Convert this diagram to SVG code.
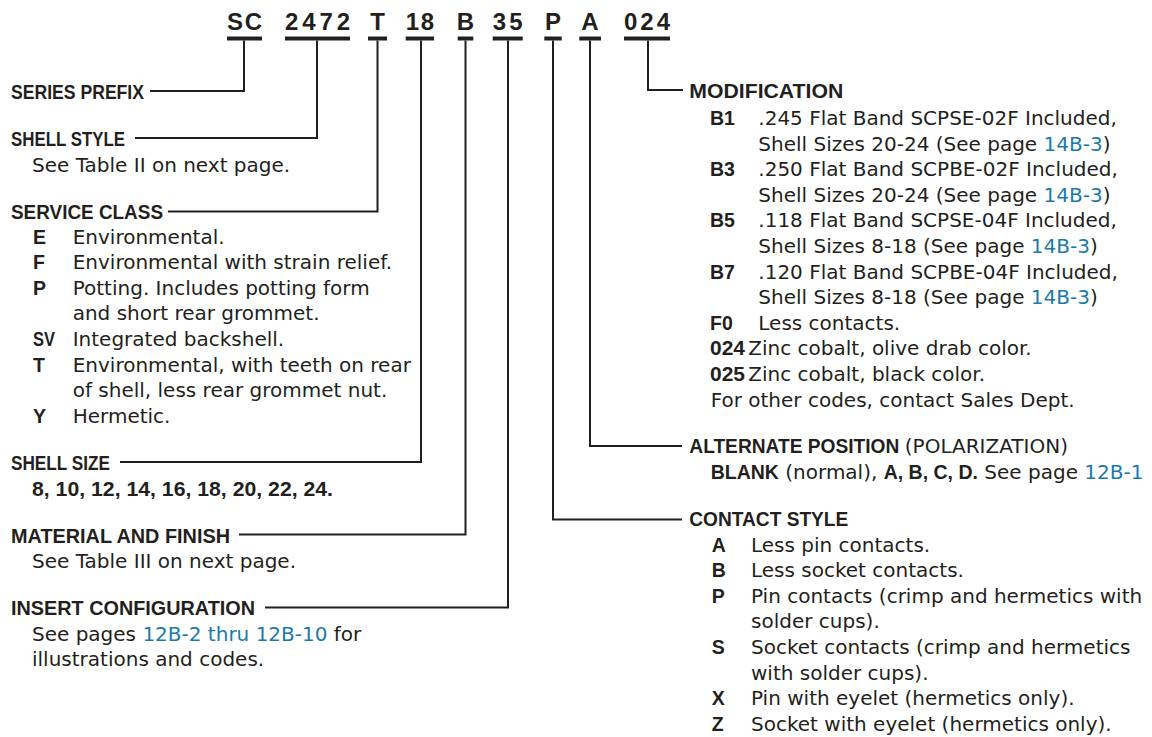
<svg xmlns="http://www.w3.org/2000/svg" width="1152" height="737" viewBox="0 0 1152 737">
<style>
  .pn { font-family: "Liberation Sans", Arial, sans-serif; font-weight: bold; font-size: 24px; fill: #231f20; }
  .bar { fill: #231f20; }
  .hd { font-family: "Liberation Sans", Arial, sans-serif; font-weight: bold; font-size: 20px; fill: #231f20; }
  .cd { font-family: "Liberation Sans", Arial, sans-serif; font-weight: bold; font-size: 19.5px; fill: #231f20; }
  .tx { font-family: "DejaVu Sans", "Liberation Sans", sans-serif; font-size: 20px; fill: #231f20; }
  .bd { font-family: "Liberation Sans", Arial, sans-serif; font-weight: bold; font-size: 19.5px; }
  .lk { fill: #1a7aab; }
  .conn { stroke: #231f20; stroke-width: 2; fill: none; }
</style>
<rect x="0" y="0" width="1152" height="737" fill="#ffffff"/>

<g id="part-number">
  <text class="pn" x="227" y="30" textLength="35" lengthAdjust="spacing">SC</text>
  <rect class="bar" x="227" y="36.5" width="35" height="4"/>
  <text class="pn" x="285" y="30" textLength="65" lengthAdjust="spacing">2472</text>
  <rect class="bar" x="285" y="36.5" width="65" height="4"/>
  <text class="pn" x="377.5" y="30" text-anchor="middle">T</text>
  <rect class="bar" x="368" y="36.5" width="19" height="4"/>
  <text class="pn" x="405.7" y="30" textLength="28.3" lengthAdjust="spacing">18</text>
  <rect class="bar" x="405.7" y="36.5" width="28.3" height="4"/>
  <text class="pn" x="465.5" y="30" text-anchor="middle">B</text>
  <rect class="bar" x="457.7" y="36.5" width="15.6" height="4"/>
  <text class="pn" x="492.7" y="30" textLength="30" lengthAdjust="spacing">35</text>
  <rect class="bar" x="492.7" y="36.5" width="30" height="4"/>
  <text class="pn" x="553" y="30" text-anchor="middle">P</text>
  <rect class="bar" x="544.3" y="36.5" width="17.4" height="4"/>
  <text class="pn" x="590" y="30" text-anchor="middle">A</text>
  <rect class="bar" x="579.3" y="36.5" width="21.7" height="4"/>
  <text class="pn" x="624" y="30" textLength="46" lengthAdjust="spacing">024</text>
  <rect class="bar" x="624" y="36.5" width="46" height="4"/>
</g>

<g id="connectors">
  <path class="conn" d="M244,40.5 V91 H150"/>
  <path class="conn" d="M317,40.5 V138 H135"/>
  <path class="conn" d="M377.5,40.5 V211.5 H168"/>
  <path class="conn" d="M421,40.5 V462 H120"/>
  <path class="conn" d="M465.5,40.5 V534.5 H239"/>
  <path class="conn" d="M508,40.5 V607.5 H265"/>
  <path class="conn" d="M553,40.5 V519.5 H682"/>
  <path class="conn" d="M590,40.5 V446 H682"/>
  <path class="conn" d="M648,40.5 V90 H683"/>
</g>

<g id="series-prefix">
  <text class="hd" x="11" y="98.5" textLength="133" lengthAdjust="spacingAndGlyphs">SERIES PREFIX</text>
</g>

<g id="shell-style">
  <text class="hd" x="11" y="145.5" textLength="114" lengthAdjust="spacingAndGlyphs">SHELL STYLE</text>
  <text class="tx" x="32" y="171.5">See Table II on next page.</text>
</g>

<g id="service-class">
  <text class="hd" x="11" y="218.5" textLength="152" lengthAdjust="spacingAndGlyphs">SERVICE CLASS</text>
  <text class="cd" x="33" y="243.6">E</text>
  <text class="tx" x="72.7" y="243.6">Environmental.</text>
  <text class="cd" x="33" y="269.2">F</text>
  <text class="tx" x="72.7" y="269.2">Environmental with strain relief.</text>
  <text class="cd" x="33" y="294.8">P</text>
  <text class="tx" x="72.7" y="294.8">Potting. Includes potting form</text>
  <text class="tx" x="72.7" y="320.4">and short rear grommet.</text>
  <text class="cd" x="33" y="346" textLength="22" lengthAdjust="spacingAndGlyphs">SV</text>
  <text class="tx" x="72.7" y="346">Integrated backshell.</text>
  <text class="cd" x="33" y="371.6">T</text>
  <text class="tx" x="72.7" y="371.6">Environmental, with teeth on rear</text>
  <text class="tx" x="72.7" y="397.2">of shell, less rear grommet nut.</text>
  <text class="cd" x="33" y="422.8">Y</text>
  <text class="tx" x="72.7" y="422.8">Hermetic.</text>
</g>

<g id="shell-size">
  <text class="hd" x="11" y="470" textLength="99" lengthAdjust="spacingAndGlyphs">SHELL SIZE</text>
  <text class="hd" x="32" y="496" textLength="301" lengthAdjust="spacingAndGlyphs">8, 10, 12, 14, 16, 18, 20, 22, 24.</text>
</g>

<g id="material-and-finish">
  <text class="hd" x="11" y="542.5" textLength="219" lengthAdjust="spacingAndGlyphs">MATERIAL AND FINISH</text>
  <text class="tx" x="32" y="568">See Table III on next page.</text>
</g>

<g id="insert-configuration">
  <text class="hd" x="11" y="615" textLength="244" lengthAdjust="spacingAndGlyphs">INSERT CONFIGURATION</text>
  <text class="tx" x="32" y="640.6">See pages <tspan class="lk">12B-2 thru 12B-10</tspan> for</text>
  <text class="tx" x="32" y="666.2">illustrations and codes.</text>
</g>

<g id="modification">
  <text class="hd" x="689.3" y="98.3" textLength="154" lengthAdjust="spacingAndGlyphs">MODIFICATION</text>
  <text class="cd" x="710" y="125">B1</text>
  <text class="tx" x="758.3" y="125">.245 Flat Band SCPSE-02F Included,</text>
  <text class="tx" x="758.3" y="150.6">Shell Sizes 20-24 (See page <tspan class="lk">14B-3</tspan>)</text>
  <text class="cd" x="710" y="176.2">B3</text>
  <text class="tx" x="758.3" y="176.2">.250 Flat Band SCPBE-02F Included,</text>
  <text class="tx" x="758.3" y="201.8">Shell Sizes 20-24 (See page <tspan class="lk">14B-3</tspan>)</text>
  <text class="cd" x="710" y="227.4">B5</text>
  <text class="tx" x="758.3" y="227.4">.118 Flat Band SCPSE-04F Included,</text>
  <text class="tx" x="758.3" y="253">Shell Sizes 8-18 (See page <tspan class="lk">14B-3</tspan>)</text>
  <text class="cd" x="710" y="278.6">B7</text>
  <text class="tx" x="758.3" y="278.6">.120 Flat Band SCPBE-04F Included,</text>
  <text class="tx" x="758.3" y="304.2">Shell Sizes 8-18 (See page <tspan class="lk">14B-3</tspan>)</text>
  <text class="cd" x="710" y="329.8">F0</text>
  <text class="tx" x="758.3" y="329.8">Less contacts.</text>
  <text class="cd" x="710" y="355.4" textLength="35" lengthAdjust="spacingAndGlyphs">024</text>
  <text class="tx" x="748.3" y="355.4">Zinc cobalt, olive drab color.</text>
  <text class="cd" x="710" y="381" textLength="35" lengthAdjust="spacingAndGlyphs">025</text>
  <text class="tx" x="748.3" y="381">Zinc cobalt, black color.</text>
  <text class="tx" x="710.7" y="406.6">For other codes, contact Sales Dept.</text>
</g>

<g id="alternate-position">
  <text class="hd" x="689.3" y="453.3" textLength="210" lengthAdjust="spacingAndGlyphs">ALTERNATE POSITION</text>
  <text class="tx" x="904.8" y="453.3">(POLARIZATION)</text>
  <text class="tx" x="710.7" y="479"><tspan class="bd">BLANK</tspan> (normal), <tspan class="bd">A, B, C, D.</tspan> See page <tspan class="lk">12B-1</tspan></text>
</g>

<g id="contact-style">
  <text class="hd" x="689.3" y="526" textLength="159" lengthAdjust="spacingAndGlyphs">CONTACT STYLE</text>
  <text class="cd" x="711.7" y="551.6">A</text>
  <text class="tx" x="751" y="551.6">Less pin contacts.</text>
  <text class="cd" x="711.7" y="577.2">B</text>
  <text class="tx" x="751" y="577.2">Less socket contacts.</text>
  <text class="cd" x="711.7" y="602.8">P</text>
  <text class="tx" x="751" y="602.8">Pin contacts (crimp and hermetics with</text>
  <text class="tx" x="751" y="628.4">solder cups).</text>
  <text class="cd" x="711.7" y="654">S</text>
  <text class="tx" x="751" y="654">Socket contacts (crimp and hermetics</text>
  <text class="tx" x="751" y="679.6">with solder cups).</text>
  <text class="cd" x="711.7" y="705.2">X</text>
  <text class="tx" x="751" y="705.2">Pin with eyelet (hermetics only).</text>
  <text class="cd" x="711.7" y="730.8">Z</text>
  <text class="tx" x="751" y="730.8">Socket with eyelet (hermetics only).</text>
</g>
</svg>
